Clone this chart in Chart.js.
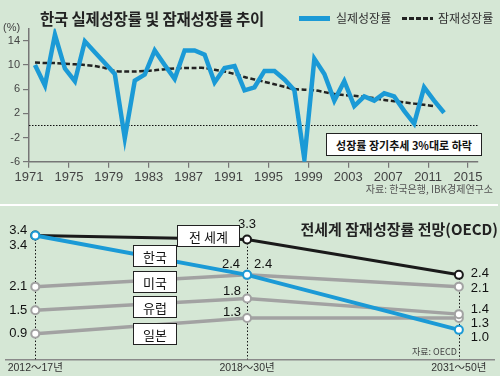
<!DOCTYPE html>
<html>
<head>
<meta charset="utf-8">
<script src="https://cdn.jsdelivr.net/npm/chart.js@4.4.1/dist/chart.umd.min.js"></script>
<style>
  html,body{margin:0;padding:0;background:#d5e7d5;}
  #wrap{position:relative;width:500px;height:376px;overflow:hidden;background:#d5e7d5;font-family:'Noto Sans CJK KR','Liberation Sans',sans-serif;color:#222;}
  .abs{position:absolute;white-space:nowrap;}
  .box{position:absolute;background:#fff;border:1px solid #222;box-sizing:border-box;display:flex;align-items:center;justify-content:center;font-size:13px;color:#111;}
</style>
</head>
<body>
<div id="wrap">
  <canvas id="c1" width="500" height="200" style="position:absolute;left:0;top:0;"></canvas>
  <canvas id="c2" width="500" height="170" style="position:absolute;left:0;top:206px;"></canvas>

  <div class="abs" style="left:40px;top:9px;font-size:15.5px;line-height:18px;font-weight:bold;color:#222;letter-spacing:-0.2px;">한국 실제성장률 및 잠재성장률 추이</div>
  <div class="abs" style="left:299px;top:16px;width:31px;height:5px;background:#1b9ad6;"></div>
  <div class="abs" style="left:336px;top:10px;font-size:12px;line-height:16px;color:#333;">실제성장률</div>
  <div class="abs" style="left:402px;top:17px;width:31px;height:3px;background:repeating-linear-gradient(90deg,#222 0 5px,transparent 5px 7px);"></div>
  <div class="abs" style="left:438px;top:10px;font-size:12px;line-height:16px;color:#333;">잠재성장률</div>
  <div class="abs" style="left:3px;top:20px;font-size:11px;line-height:14px;color:#444;font-family:'Liberation Sans',sans-serif;">(%)</div>
  <div class="box" style="left:326px;top:133px;width:156px;height:23px;font-size:11px;font-weight:bold;">성장률 장기추세 3%대로 하락</div>
  <div class="abs" style="right:7px;top:182px;font-size:10px;line-height:14px;color:#555;">자료: 한국은행, IBK경제연구소</div>

  <div class="abs" style="left:0;top:204px;width:498px;height:2px;background:#fff;"></div>
  <div class="abs" style="right:2px;top:219px;font-size:15px;line-height:20px;font-weight:bold;color:#222;">전세계 잠재성장률 전망(OECD)</div>

  <div class="box" style="left:177px;top:225px;width:63px;height:22px;">전 세계</div>
  <div class="box" style="left:133px;top:245px;width:44px;height:22px;">한국</div>
  <div class="box" style="left:133px;top:271px;width:44px;height:22px;">미국</div>
  <div class="box" style="left:133px;top:296px;width:44px;height:22px;">유럽</div>
  <div class="box" style="left:133px;top:323px;width:44px;height:22px;">일본</div>
  <div class="abs" style="left:412px;top:345px;font-size:9px;line-height:13px;color:#444;">자료: OECD</div>
</div>

<script>
// ---------- Top chart data ----------
const years = [1971,1972,1973,1974,1975,1976,1977,1978,1979,1980,
               1981,1982,1983,1984,1985,1986,1987,1988,1989,1990,
               1991,1992,1993,1994,1995,1996,1997,1998,1999,2000,
               2001,2002,2003,2004,2005,2006,2007,2008,2009,2010,
               2011,2012];
const actualGrowth = [10.0,6.6,15.0,9.4,7.3,13.9,12.1,10.3,8.5,-2.1,
                      7.4,8.4,12.4,10.0,7.7,12.4,12.4,11.7,7.1,9.5,
                      9.8,5.8,6.3,9.0,9.0,7.6,5.8,-5.6,11.0,8.5,
                      4.1,7.3,3.2,4.8,4.1,5.3,4.8,2.4,0.3,6.3,
                      4.1,2.1];
const potentialYears = [1971,1972,1973,1974,1975,1976,1977,1978,1979,1980,
                        1981,1982,1983,1984,1985,1986,1987,1988,1989,1990,
                        1991,1992,1993,1994,1995,1996,1997,1998,1999,2000,
                        2001,2002,2003,2004,2005,2006,2007,2008,2009,2010,
                        2011];
const potentialGrowth = [10.4,10.3,10.3,10.2,10.1,10.0,9.8,9.5,9.0,8.9,
                         8.9,9.0,9.1,9.3,9.4,9.5,9.5,9.5,9.2,8.9,
                         8.5,8.0,7.6,7.2,6.8,6.4,6.0,5.9,5.8,5.5,
                         5.2,5.0,4.9,4.7,4.5,4.2,4.0,3.8,3.6,3.4,
                         3.2];
const xTickYears = [1971,1975,1979,1983,1987,1991,1995,1999,2003,2007,2011,2015];
const yTickValues = [-6,-2,2,6,10,14];

// ---------- Bottom chart data ----------
const periods = ['2012～17년','2018～30년','2031～50년'];
const worldGrowth  = [3.4,3.3,2.4];
const koreaGrowth  = [3.4,2.4,1.0];
const usGrowth     = [2.1,2.4,2.1];
const europeGrowth = [1.5,1.8,1.4];
const japanGrowth  = [0.9,1.3,1.3];

// annual values plotted mid-year
const MID_YEAR = 0.6;
const BLUE = '#1b9ad6';
const GRAY = '#a2a2a2';
const AXIS = '#767676';

Chart.defaults.font.family = "'Liberation Sans','Noto Sans CJK KR',sans-serif";
Chart.defaults.animation = false;

const zeroLinePlugin = {
  id: 'zeroLine',
  beforeDatasetsDraw(chart) {
    const {ctx, chartArea, scales} = chart;
    const y = Math.round(scales.y.getPixelForValue(0)) + 0.5;
    ctx.save();
    ctx.strokeStyle = '#111';
    ctx.lineWidth = 1;
    ctx.setLineDash([1.5, 1.5]);
    ctx.beginPath();
    ctx.moveTo(chartArea.left, y);
    ctx.lineTo(chartArea.right, y);
    ctx.stroke();
    ctx.restore();
  }
};

new Chart(document.getElementById('c1'), {
  type: 'line',
  data: {
    datasets: [
      {
        label: '실제성장률',
        data: years.map((yr, i) => ({x: yr + MID_YEAR, y: actualGrowth[i]})),
        borderColor: BLUE,
        borderWidth: 4.5,
        pointRadius: 0,
        borderJoinStyle: 'miter',
        tension: 0
      },
      {
        label: '잠재성장률',
        data: potentialYears.map((yr, i) => ({x: yr + MID_YEAR, y: potentialGrowth[i]})),
        borderColor: '#222',
        borderWidth: 2.5,
        borderDash: [5, 2.5],
        pointRadius: 0,
        tension: 0.3
      }
    ]
  },
  options: {
    responsive: false,
    devicePixelRatio: 1,
    layout: {padding: {top: 28.6, right: 22, left: 0, bottom: 0}},
    plugins: {legend: {display: false}, tooltip: {enabled: false}},
    scales: {
      x: {
        type: 'linear',
        min: 1971, max: 2016,
        afterBuildTicks: s => { s.ticks = xTickYears.map(v => ({value: v})); },
        afterFit: s => { s.height = 38.3; },
        ticks: {
          autoSkip: false, maxRotation: 0, padding: 2,
          color: '#444',
          font: {size: 13, family: "'Liberation Sans Narrow','Liberation Sans',sans-serif"},
          callback: v => String(v)
        },
        grid: {drawOnChartArea: false, drawTicks: true, tickLength: 6, color: AXIS, lineWidth: 1.2},
        border: {display: true, color: AXIS, width: 1.5}
      },
      y: {
        type: 'linear',
        min: -6, max: 16,
        afterBuildTicks: s => { s.ticks = yTickValues.map(v => ({value: v})); },
        afterFit: s => { s.width = 29; },
        ticks: {padding: 3, color: '#444', font: {size: 11}},
        grid: {drawOnChartArea: false, drawTicks: true, tickLength: 6, color: AXIS, lineWidth: 1.2},
        border: {display: true, color: AXIS, width: 1.5}
      }
    }
  },
  plugins: [zeroLinePlugin]
});

// ---------- Bottom chart ----------
const seriesList = [
  {name: '한국',  values: koreaGrowth,  color: BLUE,   width: 4},
  {name: '전 세계', values: worldGrowth,  color: '#1a1a1a', width: 3},
  {name: '미국',  values: usGrowth,     color: GRAY,   width: 3.5},
  {name: '유럽',  values: europeGrowth, color: GRAY,   width: 3.5},
  {name: '일본',  values: japanGrowth,  color: GRAY,   width: 3.5}
];
// label placement (layout only): offsets from each point
const labelPlacement = {
  '한국':   [{dx:-8, dy:10, a:'right'}, {dx:7,  dy:-10, a:'left'},   {dx:12, dy:8,  a:'left'}],
  '전 세계': [{dx:-8, dy:-5, a:'right'}, {dx:0,  dy:-15, a:'center'}, {dx:12, dy:-1, a:'left'}],
  '미국':   [{dx:-8, dy:0,  a:'right'}, {dx:-16,dy:-10, a:'center'}, {dx:12, dy:2,  a:'left'}],
  '유럽':   [{dx:-8, dy:0,  a:'right'}, {dx:-15,dy:-7,  a:'center'}, {dx:12, dy:-5, a:'left'}],
  '일본':   [{dx:-8, dy:0,  a:'right'}, {dx:-15,dy:-6,  a:'center'}, {dx:12, dy:5,  a:'left'}]
};

const dropLinePlugin = {
  id: 'dropLines',
  beforeDatasetsDraw(chart) {
    const {ctx, chartArea, scales} = chart;
    ctx.save();
    ctx.strokeStyle = '#111';
    ctx.lineWidth = 1;
    ctx.setLineDash([1.5, 2]);
    periods.forEach((p, i) => {
      const top = Math.max(...seriesList.map(s => s.values[i]));
      const x = Math.round(scales.x.getPixelForValue(i)) + 0.5;
      ctx.beginPath();
      ctx.moveTo(x, scales.y.getPixelForValue(top));
      ctx.lineTo(x, chartArea.bottom);
      ctx.stroke();
    });
    ctx.restore();
  }
};

const valueLabelPlugin = {
  id: 'valueLabels',
  afterDatasetsDraw(chart) {
    const {ctx, scales} = chart;
    ctx.save();
    ctx.fillStyle = '#111';
    ctx.font = "13px 'Liberation Sans',sans-serif";
    ctx.textBaseline = 'middle';
    seriesList.forEach(s => {
      s.values.forEach((v, i) => {
        const pl = labelPlacement[s.name][i];
        ctx.textAlign = pl.a;
        ctx.fillText(v.toFixed(1), scales.x.getPixelForValue(i) + pl.dx, scales.y.getPixelForValue(v) + pl.dy);
      });
    });
    ctx.restore();
  }
};

new Chart(document.getElementById('c2'), {
  type: 'line',
  data: {
    datasets: seriesList.map(s => ({
      label: s.name,
      data: s.values.map((v, i) => ({x: i, y: v})),
      borderColor: s.color,
      borderWidth: s.width,
      pointRadius: 4,
      pointBorderWidth: 2,
      pointBackgroundColor: '#fff',
      pointBorderColor: s.color,
      tension: 0,
      clip: false
    }))
  },
  options: {
    responsive: false,
    devicePixelRatio: 1,
    layout: {padding: {top: 5.5, right: 0, left: 0, bottom: 0}},
    plugins: {legend: {display: false}, tooltip: {enabled: false}},
    scales: {
      x: {
        type: 'linear',
        min: -0.1382, max: 2.1659,
        afterBuildTicks: s => { s.ticks = periods.map((p, i) => ({value: i})); },
        afterFit: s => { s.height = 16.7; },
        ticks: {
          autoSkip: false, maxRotation: 0, padding: 3,
          color: '#333',
          font: {size: 10.5, family: "'Liberation Sans','Noto Sans CJK KR',sans-serif"},
          callback: v => periods[v]
        },
        grid: {drawOnChartArea: false, drawTicks: false},
        border: {display: true, color: '#8a8a8a', width: 1.5}
      },
      y: {
        display: false,
        min: 0.25, max: 4.0
      }
    }
  },
  plugins: [dropLinePlugin, valueLabelPlugin]
});
</script>
</body>
</html>
